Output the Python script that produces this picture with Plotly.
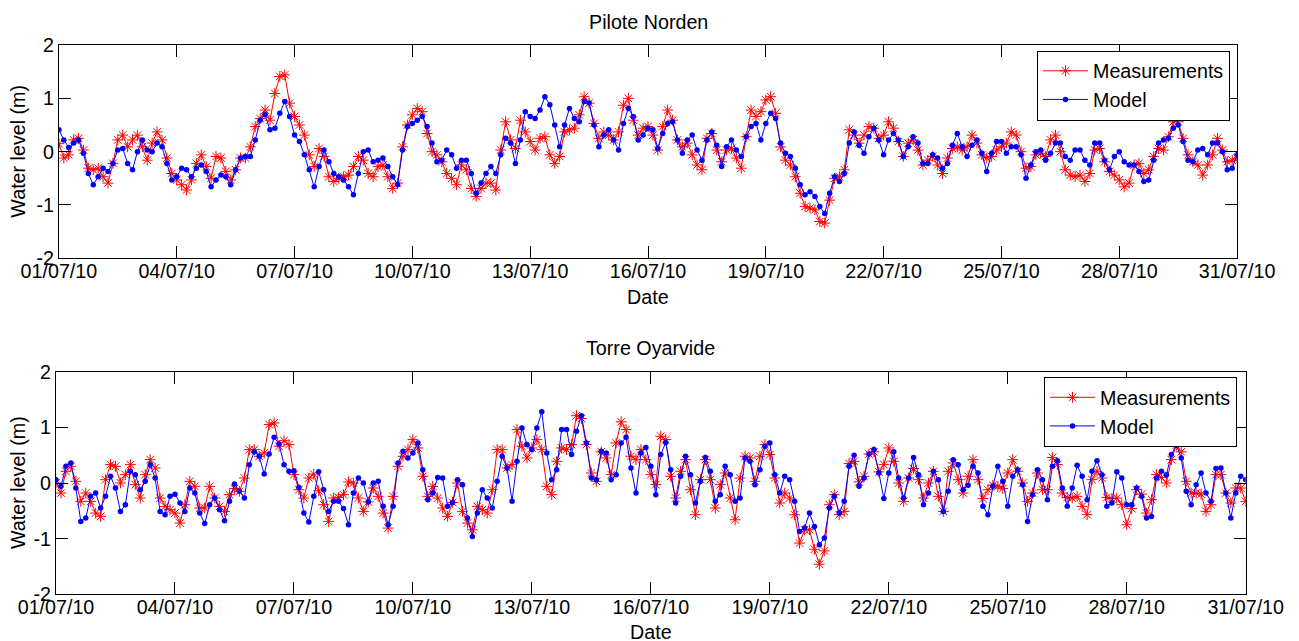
import plotly.graph_objects as go
import pandas as pd

# 3-hourly samples from 01/07/2010 00:00 to 31/07/2010 00:00
start_date = "2010-07-01"
step = "3h"

norden_meas = [
    0.15, -0.12, -0.06, 0.22, 0.25, 0.03, -0.31, -0.34,
    -0.31, -0.47, -0.59, -0.22, 0.22, 0.31, 0.09, 0.22,
    0.31, 0.09, -0.16, 0.16, 0.37, 0.22, -0.12, -0.41,
    -0.53, -0.62, -0.72, -0.53, -0.22, -0.06, -0.28, -0.50,
    -0.09, -0.12, -0.37, -0.53, -0.34, -0.12, -0.12, 0.09,
    0.47, 0.62, 0.78, 0.59, 1.09, 1.41, 1.44, 0.91,
    0.66, 0.50, 0.31, -0.06, -0.28, 0.06, -0.09, -0.47,
    -0.56, -0.50, -0.47, -0.44, -0.28, -0.09, -0.16, -0.41,
    -0.47, -0.28, -0.25, -0.47, -0.69, -0.59, 0.09, 0.50,
    0.69, 0.81, 0.75, 0.34, 0.00, -0.06, -0.19, -0.41,
    -0.50, -0.62, -0.25, -0.34, -0.69, -0.84, -0.69, -0.59,
    -0.59, -0.72, 0.03, 0.56, 0.22, 0.06, 0.59, 0.37,
    0.19, 0.03, 0.25, 0.28, -0.06, -0.22, -0.09, 0.37,
    0.41, 0.44, 0.69, 1.03, 0.91, 0.53, 0.25, 0.37,
    0.31, 0.22, 0.37, 0.87, 1.00, 0.59, 0.31, 0.44,
    0.47, 0.31, 0.03, 0.47, 0.78, 0.59, 0.22, 0.09,
    0.16, -0.06, -0.25, -0.34, 0.25, 0.34, 0.03, -0.19,
    0.03, 0.06, -0.12, -0.31, 0.28, 0.78, 0.66, 0.75,
    0.97, 1.03, 0.72, 0.09, -0.16, -0.25, -0.47, -0.78,
    -1.03, -1.06, -1.09, -1.31, -1.34, -0.91, -0.50, -0.47,
    -0.34, 0.41, 0.31, 0.16, 0.31, 0.47, 0.44, 0.25,
    0.31, 0.56, 0.44, 0.19, -0.09, 0.16, 0.22, 0.03,
    -0.25, -0.16, -0.09, -0.25, -0.41, -0.12, 0.06, 0.09,
    0.03, 0.09, 0.31, 0.16, -0.06, -0.12, -0.09, 0.03,
    0.09, 0.16, 0.37, 0.31, 0.00, -0.31, -0.28, -0.06,
    -0.03, -0.09, 0.22, 0.31, 0.00, -0.34, -0.44, -0.47,
    -0.44, -0.56, -0.41, 0.03, 0.06, -0.19, -0.37, -0.44,
    -0.53, -0.66, -0.59, -0.25, -0.22, -0.41, -0.34, -0.09,
    0.06, 0.03, 0.28, 0.56, 0.56, 0.25, -0.06, -0.19,
    -0.25, -0.44, -0.25, -0.06, 0.25, 0.03, -0.19, -0.16,
    -0.12,
]

norden_model = [
    0.41, 0.22, 0.08, 0.16, 0.22, -0.03, -0.41, -0.62,
    -0.47, -0.31, -0.37, -0.22, 0.03, 0.06, -0.22, -0.34,
    0.00, 0.22, 0.03, 0.00, 0.16, 0.09, -0.22, -0.53,
    -0.47, -0.31, -0.34, -0.47, -0.31, -0.25, -0.37, -0.66,
    -0.53, -0.44, -0.47, -0.62, -0.34, -0.12, -0.09, -0.09,
    0.22, 0.59, 0.69, 0.41, 0.44, 0.72, 0.94, 0.66,
    0.31, 0.19, -0.06, -0.34, -0.66, -0.28, 0.03, -0.19,
    -0.41, -0.47, -0.53, -0.66, -0.81, -0.41, 0.00, 0.03,
    -0.19, -0.16, -0.12, -0.28, -0.47, -0.62, 0.03, 0.47,
    0.53, 0.59, 0.66, 0.47, 0.16, -0.19, -0.16, 0.03,
    -0.06, -0.31, -0.16, -0.16, -0.41, -0.78, -0.59, -0.41,
    -0.28, -0.41, -0.06, 0.25, 0.16, -0.22, 0.22, 0.75,
    0.66, 0.62, 0.78, 1.03, 0.88, 0.50, 0.09, 0.50,
    0.81, 0.62, 0.56, 0.94, 0.91, 0.50, 0.09, 0.31,
    0.41, 0.22, 0.03, 0.53, 0.81, 0.66, 0.22, 0.31,
    0.44, 0.41, 0.06, 0.34, 0.53, 0.56, 0.22, -0.03,
    0.22, 0.31, 0.03, -0.16, 0.22, 0.37, 0.12, -0.28,
    0.09, 0.22, 0.03, -0.09, 0.28, 0.47, 0.53, 0.22,
    0.53, 0.72, 0.62, 0.16, -0.03, -0.09, -0.31, -0.62,
    -0.81, -0.75, -0.84, -1.03, -1.16, -0.78, -0.47, -0.56,
    -0.41, 0.16, 0.37, 0.12, -0.03, 0.28, 0.44, 0.22,
    -0.06, 0.22, 0.34, 0.22, -0.09, 0.09, 0.28, 0.16,
    -0.22, -0.22, -0.06, -0.12, -0.31, -0.22, 0.12, 0.34,
    0.09, -0.09, 0.12, 0.22, -0.03, -0.37, -0.03, 0.19,
    0.19, -0.03, 0.09, 0.09, -0.06, -0.50, -0.25, 0.00,
    0.03, -0.16, -0.03, 0.16, 0.16, -0.09, -0.16, 0.03,
    0.03, -0.16, -0.25, 0.16, 0.16, -0.16, -0.34, -0.09,
    0.00, -0.19, -0.25, -0.25, -0.37, -0.56, -0.53, -0.16,
    0.16, 0.22, 0.25, 0.44, 0.50, 0.19, -0.16, -0.19,
    0.03, 0.06, -0.06, 0.16, 0.16, 0.00, -0.34, -0.31,
    -0.06,
]

oyarvide_meas = [
    0.00, -0.18, 0.21, 0.30, 0.03, -0.33, -0.18, -0.33,
    -0.54, -0.60, 0.06, 0.33, 0.30, 0.00, 0.15, 0.33,
    -0.03, -0.27, 0.15, 0.42, 0.27, -0.27, -0.42, -0.48,
    -0.54, -0.72, -0.39, 0.03, -0.06, -0.45, -0.45, -0.06,
    -0.27, -0.42, -0.51, -0.21, -0.10, -0.15, 0.09, 0.60,
    0.60, 0.48, 0.54, 1.05, 1.08, 0.66, 0.76, 0.69,
    0.15, -0.12, -0.27, 0.09, 0.16, -0.14, -0.39, -0.69,
    -0.27, -0.26, -0.21, 0.02, 0.00, -0.27, -0.51, -0.34,
    -0.09, -0.24, -0.54, -0.81, -0.24, 0.30, 0.48, 0.60,
    0.78, 0.63, 0.12, -0.24, -0.06, -0.27, -0.45, -0.60,
    -0.35, 0.00, -0.51, -0.72, -0.84, -0.42, -0.48, -0.54,
    -0.12, 0.60, 0.60, 0.27, 0.33, 0.96, 0.66, 0.45,
    0.63, 0.78, 0.60, -0.06, -0.21, 0.39, 0.63, 0.60,
    0.69, 1.21, 1.16, 0.69, 0.18, 0.03, 0.56, 0.45,
    0.15, 0.72, 1.10, 0.96, 0.48, 0.42, 0.60, 0.42,
    0.15, -0.03, 0.84, 0.78, 0.12, -0.27, 0.21, 0.42,
    -0.12, -0.57, 0.06, 0.42, 0.06, -0.45, -0.03, 0.18,
    -0.27, -0.66, 0.09, 0.48, 0.45, 0.03, 0.48, 0.69,
    0.51, 0.09, -0.36, -0.18, -0.27, -0.57, -1.08, -0.84,
    -0.84, -1.19, -1.46, -1.22, -0.39, -0.21, -0.57, -0.51,
    0.35, 0.39, 0.02, 0.12, 0.52, 0.56, 0.20, 0.33,
    0.63, 0.39, 0.00, -0.33, 0.09, 0.26, 0.06, -0.27,
    0.00, 0.21, -0.24, -0.51, 0.21, 0.36, 0.06, -0.18,
    0.12, 0.42, 0.06, -0.28, -0.12, -0.04, -0.06, -0.10,
    0.18, 0.42, 0.21, 0.00, -0.33, -0.18, 0.18, -0.12,
    -0.12, 0.46, 0.33, -0.18, -0.26, -0.27, -0.24, -0.42,
    -0.57, 0.06, 0.21, 0.09, -0.26, -0.28, -0.27, -0.39,
    -0.75, -0.46, -0.12, -0.20, -0.54, -0.30, 0.15, 0.10,
    0.00, 0.42, 0.68, 0.56, 0.03, -0.18, -0.18, -0.20,
    -0.51, -0.39, 0.15, 0.15, -0.18, -0.36, -0.09, -0.09,
    -0.33,
]

oyarvide_model = [
    0.06, -0.06, 0.30, 0.36, -0.09, -0.69, -0.63, -0.24,
    -0.18, -0.45, -0.24, 0.12, -0.09, -0.51, -0.39, 0.21,
    0.15, -0.12, 0.03, 0.33, 0.09, -0.51, -0.57, -0.24,
    -0.20, -0.36, -0.51, -0.09, -0.18, -0.54, -0.73, -0.39,
    -0.27, -0.48, -0.68, -0.33, -0.02, -0.15, -0.27, 0.33,
    0.56, 0.48, 0.16, 0.52, 0.82, 0.70, 0.33, 0.21,
    0.22, -0.08, -0.54, -0.70, -0.24, 0.20, -0.12, -0.51,
    -0.33, -0.33, -0.46, -0.75, -0.18, 0.09, 0.00, -0.34,
    0.00, 0.03, -0.42, -0.75, -0.42, 0.36, 0.57, 0.45,
    0.54, 0.72, 0.24, -0.30, -0.18, 0.10, 0.09, -0.42,
    -0.35, 0.06, -0.03, -0.63, -0.96, -0.54, -0.12, -0.27,
    -0.45, 0.03, 0.48, 0.27, -0.33, 0.39, 0.99, 0.69,
    0.60, 0.99, 1.28, 0.54, 0.06, 0.24, 0.96, 0.96,
    0.51, 0.93, 1.21, 0.72, 0.09, 0.06, 0.57, 0.54,
    0.06, 0.15, 0.72, 0.82, 0.27, -0.18, 0.54, 0.64,
    0.30, -0.21, 0.51, 0.73, 0.24, -0.36, 0.12, 0.48,
    0.15, -0.36, 0.03, 0.46, 0.21, -0.33, -0.21, 0.30,
    0.15, -0.33, -0.27, 0.45, 0.39, -0.03, 0.24, 0.66,
    0.72, 0.15, -0.18, 0.12, 0.06, -0.33, -0.87, -0.81,
    -0.54, -0.78, -1.11, -0.99, -0.45, -0.24, -0.54, -0.33,
    0.30, 0.50, -0.06, 0.09, 0.52, 0.60, 0.18, -0.28,
    0.18, 0.56, 0.09, -0.27, 0.09, 0.46, 0.15, -0.39,
    -0.18, 0.21, 0.06, -0.51, -0.15, 0.42, 0.33, -0.12,
    -0.04, 0.30, 0.18, -0.42, -0.57, -0.06, 0.30, 0.03,
    -0.42, 0.12, 0.24, -0.03, -0.69, -0.21, 0.24, 0.06,
    -0.30, 0.30, 0.40, -0.09, -0.42, -0.09, 0.32, 0.12,
    -0.30, 0.21, 0.40, 0.15, -0.42, -0.36, 0.20, 0.09,
    -0.39, -0.39, -0.09, -0.24, -0.63, -0.60, 0.09, 0.21,
    0.15, 0.51, 0.68, 0.45, -0.15, -0.39, -0.03, 0.18,
    -0.18, -0.33, 0.26, 0.27, -0.18, -0.63, -0.18, 0.12,
    0.06,
]

titles = ["Pilote Norden", "Torre Oyarvide"]
series_names = ["Measurements", "Model"]
y_ticks = [-2, -1, 0, 1, 2]

FONT = "Arial, Liberation Sans, sans-serif"
FS = 19.7
RED = "#ff0000"
BLUE = "#0000ff"


def times_for(vals):
    return pd.date_range(start_date, periods=len(vals), freq=step)


fig = go.Figure()
panels = [
    (norden_meas, norden_model, "x", "y", "legend"),
    (oyarvide_meas, oyarvide_model, "x2", "y2", "legend2"),
]
for meas, model, xa, ya, lg in panels:
    fig.add_trace(go.Scatter(
        x=times_for(meas), y=meas, mode="lines+markers", name=series_names[0],
        line=dict(color=RED, width=1),
        marker=dict(symbol="asterisk-open", size=9, color=RED,
                    line=dict(color=RED, width=1)),
        xaxis=xa, yaxis=ya, legend=lg))
    fig.add_trace(go.Scatter(
        x=times_for(model), y=model, mode="lines+markers", name=series_names[1],
        line=dict(color=BLUE, width=1),
        marker=dict(symbol="circle", size=5.5, color=BLUE),
        xaxis=xa, yaxis=ya, legend=lg))

W, H = 1299, 641
top = dict(x0=58.9, x1=1237.1, y0=45.0, y1=258.3)
bot = dict(x0=56.0, x1=1245.7, y0=371.7, y1=594.3)


def xdom(p):
    return [p["x0"] / W, p["x1"] / W]


def ydom(p):
    return [(H - p["y1"]) / H, (H - p["y0"]) / H]


def xaxis_cfg(p, anchor):
    return dict(
        domain=xdom(p), anchor=anchor, type="date",
        range=["2010-07-01", "2010-07-31"], tick0="2010-07-01",
        dtick=3 * 86400000, tickformat="%d/%m/%y",
        ticks="inside", ticklen=12, tickcolor="black", tickwidth=1,
        showline=True, linecolor="black", linewidth=1, mirror="ticks",
        showgrid=False, zeroline=False, automargin=False,
        ticklabelstandoff=-5,
        tickfont=dict(family=FONT, size=FS, color="black"))


def yaxis_cfg(p, anchor):
    return dict(
        domain=ydom(p), anchor=anchor, range=[-2, 2],
        tickvals=y_ticks, ticktext=[str(v) for v in y_ticks],
        ticks="inside", ticklen=12, tickcolor="black", tickwidth=1,
        showline=True, linecolor="black", linewidth=1, mirror="ticks",
        showgrid=False, zeroline=False, automargin=False,
        tickfont=dict(family=FONT, size=FS, color="black"))


def legend_cfg(px, py):
    return dict(
        x=px / W, y=(H - py) / H, xanchor="left", yanchor="top",
        bordercolor="black", borderwidth=1, bgcolor="white",
        font=dict(family=FONT, size=FS, color="black"),
        tracegroupgap=0, itemwidth=45)


annotations = []
for p, title, title_y, date_y in [(top, titles[0], 22, 297), (bot, titles[1], 348, 632)]:
    cx = (p["x0"] + p["x1"]) / 2 / W
    cy = (H - (p["y0"] + p["y1"]) / 2) / H
    annotations.append(dict(text=title, x=cx, y=(H - title_y) / H, xref="paper", yref="paper",
                            showarrow=False, xanchor="center", yanchor="middle",
                            font=dict(family=FONT, size=FS, color="black")))
    annotations.append(dict(text="Date", x=cx, y=(H - date_y) / H, xref="paper", yref="paper",
                            showarrow=False, xanchor="center", yanchor="middle",
                            font=dict(family=FONT, size=FS, color="black")))
    annotations.append(dict(text="Water level (m)", x=18 / W, y=cy, xref="paper", yref="paper",
                            showarrow=False, xanchor="center", yanchor="middle", textangle=-90,
                            font=dict(family=FONT, size=FS, color="black")))

fig.update_layout(
    width=W, height=H, margin=dict(l=0, r=0, t=0, b=0),
    paper_bgcolor="white", plot_bgcolor="white",
    font=dict(family=FONT, size=FS, color="black"),
    showlegend=True,
    xaxis=xaxis_cfg(top, "y"), yaxis=yaxis_cfg(top, "x"),
    xaxis2=xaxis_cfg(bot, "y2"), yaxis2=yaxis_cfg(bot, "x2"),
    legend=legend_cfg(1037, 50.5), legend2=legend_cfg(1044, 377),
    annotations=annotations,
)

fig.write_html("out.html", config={"displayModeBar": False},
               post_script="document.body.style.margin='0px';document.body.style.overflow='hidden';")
